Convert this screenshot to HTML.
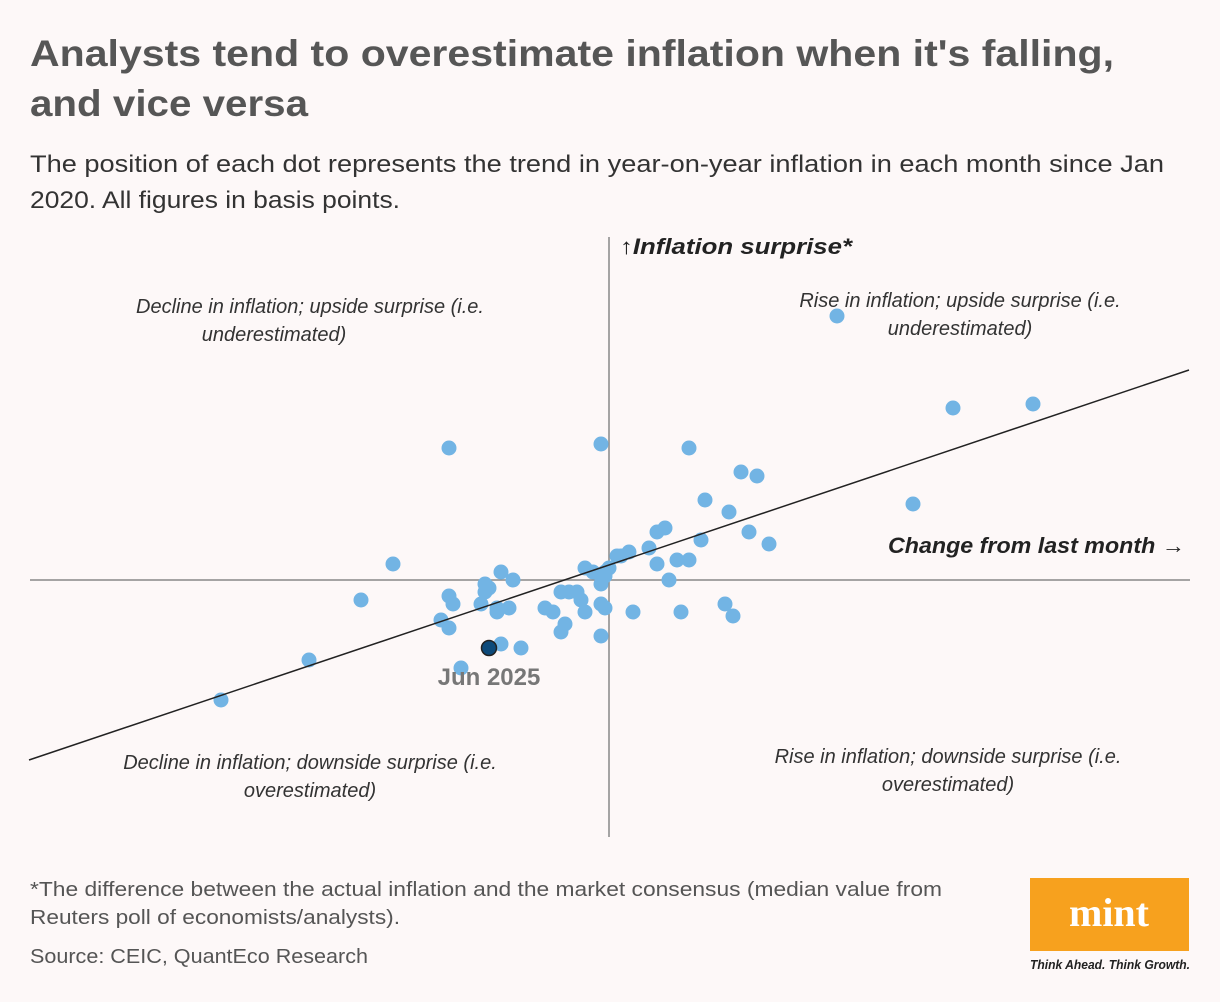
<!DOCTYPE html>
<html><head><meta charset="utf-8"><style>
html,body{margin:0;padding:0;background:#fdf8f8}
svg{display:block;font-family:"Liberation Sans",sans-serif}
</style></head><body>
<svg id="chart" width="1220" height="1002" viewBox="0 0 1220 1002">
<rect width="1220" height="1002" fill="#fdf8f8"/>
<text x="30" y="66" font-size="37" font-weight="bold" fill="#565656" textLength="1084" lengthAdjust="spacingAndGlyphs">Analysts tend to overestimate inflation when it's falling,</text>
<text x="30" y="116" font-size="37" font-weight="bold" fill="#565656" textLength="278" lengthAdjust="spacingAndGlyphs">and vice versa</text>
<text x="30" y="172" font-size="24" fill="#333" textLength="1134" lengthAdjust="spacingAndGlyphs">The position of each dot represents the trend in year-on-year inflation in each month since Jan</text>
<text x="30" y="208" font-size="24" fill="#333" textLength="370" lengthAdjust="spacingAndGlyphs">2020. All figures in basis points.</text>
<g id="plot"></g>
<g font-style="italic" font-size="20" fill="#333" text-anchor="middle">
<text x="310" y="313">Decline in inflation; upside surprise (i.e.</text>
<text x="274" y="341">underestimated)</text>
<text x="960" y="307">Rise in inflation; upside surprise (i.e.</text>
<text x="960" y="335">underestimated)</text>
<text x="310" y="769">Decline in inflation; downside surprise (i.e.</text>
<text x="310" y="797">overestimated)</text>
<text x="948" y="763">Rise in inflation; downside surprise (i.e.</text>
<text x="948" y="791">overestimated)</text>
</g>
<text x="620" y="254" font-size="22" font-weight="bold" font-style="italic" fill="#222" textLength="232" lengthAdjust="spacingAndGlyphs">↑Inflation surprise*</text>
<text x="888" y="553" font-size="22" font-weight="bold" font-style="italic" fill="#222" textLength="297" lengthAdjust="spacingAndGlyphs">Change from last month →</text>
<text x="30" y="896" font-size="20" fill="#555" textLength="912" lengthAdjust="spacingAndGlyphs">*The difference between the actual inflation and the market consensus (median value from</text>
<text x="30" y="924" font-size="20" fill="#555" textLength="370" lengthAdjust="spacingAndGlyphs">Reuters poll of economists/analysts).</text>
<text x="30" y="963" font-size="20" fill="#555" textLength="338" lengthAdjust="spacingAndGlyphs">Source: CEIC, QuantEco Research</text>
<rect x="1030" y="878" width="159" height="73" fill="#f7a11e"/>
<text x="1109" y="926" font-size="40" font-weight="bold" fill="#fff" text-anchor="middle" font-family="Liberation Serif,serif">mint</text>
<text x="1030" y="969" font-size="12.5" font-style="italic" font-weight="bold" fill="#222" textLength="160" lengthAdjust="spacingAndGlyphs">Think Ahead. Think Growth.</text>
</svg>
<script>
const xValues=[57,86,106,-40,-2,20,33,37,24,30,76,35,40,12,14,23,10,5,2,3,12,17,20,15,-54,-62,-40,-39,-42,-40,-32,-31,-30,-31,-27,-24,-28,-28,-25,-6,-4,-2,-1,-1,0,-2,-12,-10,-8,-7,-6,-16,-14,-11,-12,-2,-1,-2,6,18,29,31,-27,-22,-37,-75,-97];
const yValues=[66,43,44,33,34,33,27,26,20,17,19,12,9,12,13,10,8,7,6,6,4,5,5,0,4,-5,-4,-6,-10,-12,-6,-1,-2,-3,2,0,-7,-8,-7,3,2,1,1,2,3,-1,-3,-3,-3,-5,-8,-7,-8,-11,-13,-6,-7,-14,-8,-8,-6,-9,-16,-17,-22,-20,-30];
const highlightX=[-30];
const highlightY=[-17];
const highlightLabel=["Jun 2025"];
const trendX=[-145,145];
const trendY=[-45,52.5];
const ox=609, oy=580, k=4;
const sx=v=>ox+v*k, sy=v=>oy-v*k;
const NS="http://www.w3.org/2000/svg";
const g=document.getElementById('plot');
function mk(t,a){const e=document.createElementNS(NS,t);for(const n in a)e.setAttribute(n,a[n]);g.appendChild(e);return e;}
let ax=mk('line',{x1:30,x2:1190,y1:oy,y2:oy,stroke:'#888','stroke-width':1.5});


let ay=mk('line',{x1:ox,x2:ox,y1:237,y2:837,stroke:'#888','stroke-width':1.5});


for(let i=0;i<xValues.length;i++){
  const c=mk('circle',{cx:sx(xValues[i]),cy:sy(yValues[i]),r:7.5,fill:'#72b4e4'});
  
  
}
const tl=mk('line',{x1:sx(trendX[0]),y1:sy(trendY[0]),x2:sx(trendX[1]),y2:sy(trendY[1]),stroke:'#222','stroke-width':1.5});


const h=mk('circle',{cx:sx(highlightX[0]),cy:sy(highlightY[0]),r:7.5,fill:'#0d4a7a',stroke:'#222','stroke-width':1.5});


const ht=mk('text',{x:sx(highlightX[0]),y:sy(highlightY[0])+37,'font-size':24,'font-weight':'bold',fill:'#777','text-anchor':'middle'});
ht.textContent=highlightLabel[0];


</script>
</body></html>
